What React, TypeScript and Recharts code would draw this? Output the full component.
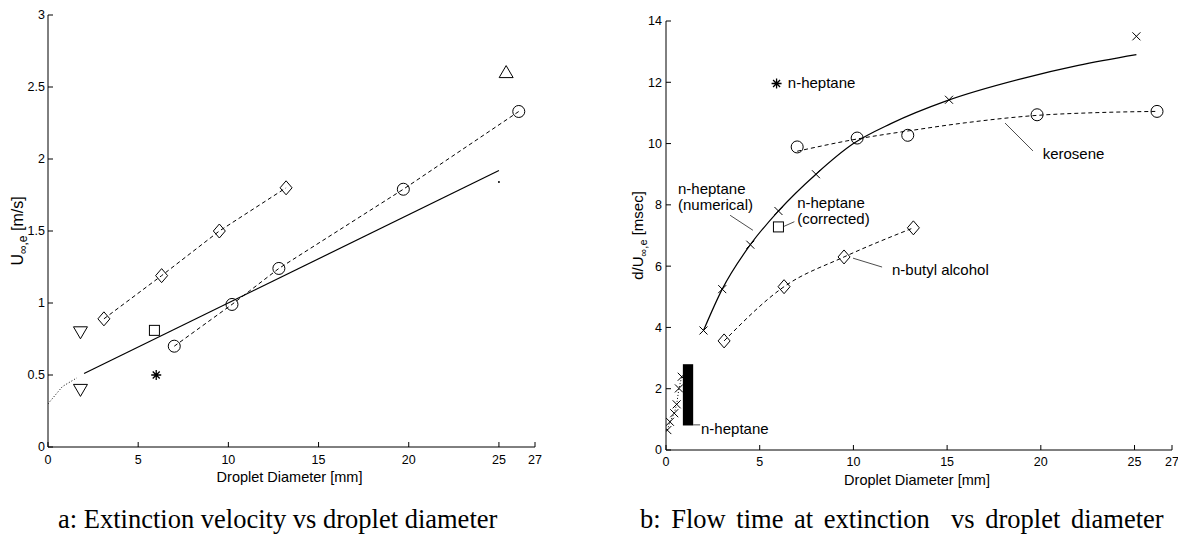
import React from 'react'
import {
  ComposedChart,
  Line,
  Scatter,
  XAxis,
  YAxis,
  ReferenceLine,
  ReferenceDot,
  ReferenceArea,
} from 'recharts'

const INK = '#000'
const SANS = '"Liberation Sans", Arial, Helvetica, sans-serif'
const SERIF = '"Liberation Serif", "Times New Roman", serif'

// shared axis ticks
const diaTicks = [0, 5, 10, 15, 20, 25, 27]
const velTicks = [0, 0.5, 1, 1.5, 2, 2.5, 3]
const timeTicks = [0, 2, 4, 6, 8, 10, 12, 14]

// panel a: extinction velocity [m/s] vs diameter [mm]
const butylDiaA = [3.1, 6.3, 9.5, 13.2]
const butylVelA = [0.89, 1.19, 1.5, 1.8]
const keroDiaA = [7.0, 10.2, 12.8, 19.7, 26.1]
const keroVelA = [0.7, 0.99, 1.24, 1.79, 2.33]
const fitDiaA = [2.0, 25.0]
const fitVelA = [0.51, 1.92]
const smallDiaA = [0, 0.8, 1.6]
const smallVelA = [0.3, 0.42, 0.48]
const triDownDiaA = [1.8, 1.8]
const triDownVelA = [0.8, 0.4]
const triUpDiaA = [25.4]
const triUpVelA = [2.6]
const squareDiaA = [5.9]
const squareVelA = [0.81]
const starDiaA = [6.0]
const starVelA = [0.5]
const dotDiaA = [25.0]
const dotVelA = [1.84]

// panel b: flow time d/U [msec] vs diameter [mm]
const numDiaB = [2.0, 3.0, 4.5, 6.0, 8.0, 15.1, 25.1]
const numTimeB = [3.9, 5.25, 6.7, 7.8, 9.0, 11.43, 13.5]
const numFitDiaB = [2.0, 3.0, 4.5, 6.0, 8.0, 10.0, 12.0, 15.0, 19.0, 22.0, 25.1]
const numFitTimeB = [3.9, 5.25, 6.7, 7.8, 9.0, 10.0, 10.65, 11.4, 12.12, 12.55, 12.9]
const smallDiaB = [0.07, 0.21, 0.44, 0.57, 0.69, 0.84]
const smallTimeB = [0.65, 0.92, 1.2, 1.49, 2.01, 2.39]
const keroDiaB = [7.0, 10.2, 12.9, 19.8, 26.2]
const keroTimeB = [9.89, 10.18, 10.27, 10.94, 11.05]
const keroFitDiaB = [7.0, 10.2, 13.0, 16.0, 19.8, 23.0, 26.2]
const keroFitTimeB = [9.75, 10.15, 10.42, 10.68, 10.92, 11.01, 11.05]
const butylDiaB = [3.1, 6.3, 9.5, 13.2]
const butylTimeB = [3.56, 5.33, 6.3, 7.25]
const squareDiaB = [6.0]
const squareTimeB = [7.28]
const starDiaB = [5.9]
const starTimeB = [11.96]
const heptBandB = { x1: 0.9, x2: 1.45, y1: 0.8, y2: 2.8 }

const notesB = [
  { x: 6.5, y: 12.0, lines: ['n-heptane'] },
  { x: 0.64, y: 8.54, lines: ['n-heptane', '(numerical)'] },
  { x: 7.0, y: 8.1, lines: ['n-heptane', '(corrected)'] },
  { x: 20.1, y: 9.68, lines: ['kerosene'] },
  { x: 12.06, y: 5.9, lines: ['n-butyl alcohol'] },
  { x: 1.87, y: 0.72, lines: ['n-heptane'] },
]
const leadersB = [
  [{ x: 3.42, y: 7.66 }, { x: 4.64, y: 7.17 }],
  [{ x: 6.3, y: 7.3 }, { x: 6.85, y: 7.45 }],
  [{ x: 18.09, y: 10.67 }, { x: 19.58, y: 9.76 }],
  [{ x: 9.98, y: 6.26 }, { x: 11.53, y: 5.97 }],
  [{ x: 1.45, y: 0.82 }, { x: 1.82, y: 0.82 }],
]

const pts = (xs: number[], ys: number[]) => xs.map((x, i) => ({ x, y: ys[i] }))

const S = { stroke: INK, strokeWidth: 1, fill: 'none' }

function Diamond({ cx, cy }: any) {
  return <path d={`M${cx},${cy - 7}L${cx + 6},${cy}L${cx},${cy + 7}L${cx - 6},${cy}Z`} {...S} />
}
function Ring({ cx, cy }: any) {
  return <circle cx={cx} cy={cy} r={6} {...S} />
}
function TriDown({ cx, cy }: any) {
  return <path d={`M${cx - 7},${cy - 5}L${cx + 7},${cy - 5}L${cx},${cy + 7}Z`} {...S} />
}
function TriUp({ cx, cy }: any) {
  return <path d={`M${cx - 7},${cy + 5}L${cx + 7},${cy + 5}L${cx},${cy - 7}Z`} {...S} />
}
function Box({ cx, cy }: any) {
  return <rect x={cx - 5} y={cy - 5} width={10} height={10} {...S} />
}
function Star({ cx, cy }: any) {
  const r = 5
  return (
    <path
      d={`M${cx},${cy - r}V${cy + r}M${cx - r},${cy}H${cx + r}M${cx - 3.5},${cy - 3.5}L${cx + 3.5},${cy + 3.5}M${cx - 3.5},${cy + 3.5}L${cx + 3.5},${cy - 3.5}`}
      {...S}
      strokeWidth={1.3}
    />
  )
}
function Cross({ cx, cy }: any) {
  return <path d={`M${cx - 4},${cy - 4}L${cx + 4},${cy + 4}M${cx - 4},${cy + 4}L${cx + 4},${cy - 4}`} {...S} />
}
function Dot({ cx, cy }: any) {
  return <circle cx={cx} cy={cy} r={1} fill={INK} />
}

function Note({ cx, cy, lines }: any) {
  return (
    <text x={cx} y={cy} fontSize={15} fontFamily={SANS} fill={INK} dominantBaseline="central">
      {lines.map((l: string, i: number) => (
        <tspan key={i} x={cx} dy={i === 0 ? 0 : 16}>
          {l}
        </tspan>
      ))}
    </text>
  )
}

const tickStyle = { fontSize: 12.5, fill: INK, fontFamily: SANS }
const axisLine = { stroke: INK, strokeWidth: 1 }

function xLabel(dy: number) {
  return ({ viewBox }: any) => (
    <text
      x={viewBox.x + viewBox.width / 2 - 2}
      y={viewBox.y + dy}
      textAnchor="middle"
      fontSize={14.5}
      fontFamily={SANS}
      fill={INK}
    >
      Droplet Diameter [mm]
    </text>
  )
}

function yLabel(dx: number, prefix: string, unit: string, size: number, sub: number) {
  return ({ viewBox }: any) => {
    const cx = viewBox.x + dx
    const cy = viewBox.y + viewBox.height / 2
    return (
      <text
        x={cx}
        y={cy}
        transform={`rotate(-90 ${cx} ${cy})`}
        textAnchor="middle"
        fontSize={size}
        fontFamily={SANS}
        fill={INK}
      >
        {prefix}U
        <tspan fontSize={sub} dy={4}>
          ∞,e
        </tspan>
        <tspan dy={-4}>{' ' + unit}</tspan>
      </text>
    )
  }
}

function Frame({ yDomain, yTicks, yWidth, yMargin, xMargin, xLabelDy, yLabelDx, prefix, unit, size, sub }: any) {
  return [
    <XAxis
      key="xb"
      type="number"
      dataKey="x"
      domain={[0, 27]}
      ticks={diaTicks}
      interval={0}
      allowDataOverflow
      height={30}
      tickSize={-5}
      tickMargin={xMargin}
      tick={tickStyle}
      axisLine={axisLine}
      tickLine={axisLine}
      label={xLabel(xLabelDy)}
    />,
    <XAxis
      key="xt"
      xAxisId="top"
      orientation="top"
      type="number"
      dataKey="x"
      domain={[0, 27]}
      ticks={diaTicks}
      interval={0}
      height={0}
      tickSize={-5}
      tick={false}
      axisLine={axisLine}
      tickLine={axisLine}
    />,
    <YAxis
      key="yl"
      type="number"
      dataKey="y"
      domain={yDomain}
      ticks={yTicks}
      interval={0}
      allowDataOverflow
      width={yWidth}
      tickSize={-5}
      tickMargin={yMargin}
      tick={tickStyle}
      axisLine={axisLine}
      tickLine={axisLine}
      label={yLabel(yLabelDx, prefix, unit, size, sub)}
    />,
    <YAxis
      key="yr"
      yAxisId="right"
      orientation="right"
      type="number"
      domain={yDomain}
      ticks={yTicks}
      interval={0}
      width={0}
      tickSize={-5}
      tick={false}
      axisLine={axisLine}
      tickLine={axisLine}
    />,
  ]
}

function PanelA() {
  return (
    <ComposedChart width={560} height={537} margin={{ top: 15, right: 25, left: 8, bottom: 60 }}>
      {Frame({ yDomain: [0, 3], yTicks: velTicks, yWidth: 40, yMargin: 8, xMargin: 13, xLabelDy: 35, yLabelDx: 15, prefix: '', unit: '[m/s]', size: 16, sub: 12 })}
      <Line data={pts(butylDiaA, butylVelA)} dataKey="y" type="linear" stroke={INK} strokeWidth={1} strokeDasharray="4 3" dot={false} activeDot={false} isAnimationActive={false} />
      <Line data={pts(keroDiaA, keroVelA)} dataKey="y" type="linear" stroke={INK} strokeWidth={1} strokeDasharray="4 3" dot={false} activeDot={false} isAnimationActive={false} />
      <Line data={pts(fitDiaA, fitVelA)} dataKey="y" type="linear" stroke={INK} strokeWidth={1.2} dot={false} activeDot={false} isAnimationActive={false} />
      <Line data={pts(smallDiaA, smallVelA)} dataKey="y" type="linear" stroke={INK} strokeWidth={1} strokeDasharray="1 2" dot={false} activeDot={false} isAnimationActive={false} />
      <Scatter data={pts(butylDiaA, butylVelA)} shape={Diamond} isAnimationActive={false} />
      <Scatter data={pts(keroDiaA, keroVelA)} shape={Ring} isAnimationActive={false} />
      <Scatter data={pts(triDownDiaA, triDownVelA)} shape={TriDown} isAnimationActive={false} />
      <Scatter data={pts(triUpDiaA, triUpVelA)} shape={TriUp} isAnimationActive={false} />
      <Scatter data={pts(squareDiaA, squareVelA)} shape={Box} isAnimationActive={false} />
      <Scatter data={pts(starDiaA, starVelA)} shape={Star} isAnimationActive={false} />
      <Scatter data={pts(dotDiaA, dotVelA)} shape={Dot} isAnimationActive={false} />
    </ComposedChart>
  )
}

function PanelB() {
  return (
    <ComposedChart width={588} height={537} margin={{ top: 21, right: 6, left: 26, bottom: 57 }}>
      {Frame({ yDomain: [0, 14], yTicks: timeTicks, yWidth: 50, yMargin: 9, xMargin: 12, xLabelDy: 35, yLabelDx: 27, prefix: 'd/', unit: '[msec]', size: 15, sub: 11 })}
      <ReferenceArea x1={heptBandB.x1} x2={heptBandB.x2} y1={heptBandB.y1} y2={heptBandB.y2} fill={INK} fillOpacity={1} stroke="none" />
      <Line data={pts(numFitDiaB, numFitTimeB)} dataKey="y" type="monotone" stroke={INK} strokeWidth={1.2} dot={false} activeDot={false} isAnimationActive={false} />
      <Line data={pts(keroFitDiaB, keroFitTimeB)} dataKey="y" type="monotone" stroke={INK} strokeWidth={1} strokeDasharray="4 3" dot={false} activeDot={false} isAnimationActive={false} />
      <Line data={pts(butylDiaB, butylTimeB)} dataKey="y" type="monotone" stroke={INK} strokeWidth={1} strokeDasharray="4 3" dot={false} activeDot={false} isAnimationActive={false} />
      <Line data={pts(smallDiaB, smallTimeB)} dataKey="y" type="linear" stroke={INK} strokeWidth={1} strokeDasharray="1 2" dot={false} activeDot={false} isAnimationActive={false} />
      <Scatter data={pts(numDiaB, numTimeB)} shape={Cross} isAnimationActive={false} />
      <Scatter data={pts(smallDiaB, smallTimeB)} shape={Cross} isAnimationActive={false} />
      <Scatter data={pts(keroDiaB, keroTimeB)} shape={Ring} isAnimationActive={false} />
      <Scatter data={pts(butylDiaB, butylTimeB)} shape={Diamond} isAnimationActive={false} />
      <Scatter data={pts(squareDiaB, squareTimeB)} shape={Box} isAnimationActive={false} />
      <Scatter data={pts(starDiaB, starTimeB)} shape={Star} isAnimationActive={false} />
      {leadersB.map((seg, i) => (
        <ReferenceLine key={`l${i}`} segment={seg} stroke={INK} strokeWidth={0.7} />
      ))}
      {notesB.map((n, i) => (
        <ReferenceDot key={`n${i}`} x={n.x} y={n.y} r={0} shape={(p: any) => <Note cx={p.cx} cy={p.cy} lines={n.lines} />} />
      ))}
    </ComposedChart>
  )
}

const captionStyle: React.CSSProperties = {
  position: 'absolute',
  top: 506,
  fontFamily: SERIF,
  fontSize: 26.5,
  lineHeight: '26px',
  whiteSpace: 'pre',
  color: INK,
}

export default function App() {
  return (
    <div style={{ position: 'absolute', left: 0, top: 0, width: 1178, height: 537, background: '#fff', overflow: 'hidden' }}>
      <div style={{ position: 'absolute', left: 0, top: 0 }}>
        <PanelA />
      </div>
      <div style={{ position: 'absolute', left: 590, top: 0 }}>
        <PanelB />
      </div>
      <div style={{ ...captionStyle, left: 58 }}>a: Extinction velocity vs droplet diameter</div>
      <div style={{ ...captionStyle, left: 640, wordSpacing: 4 }}>b: Flow time at extinction  vs droplet diameter</div>
    </div>
  )
}
